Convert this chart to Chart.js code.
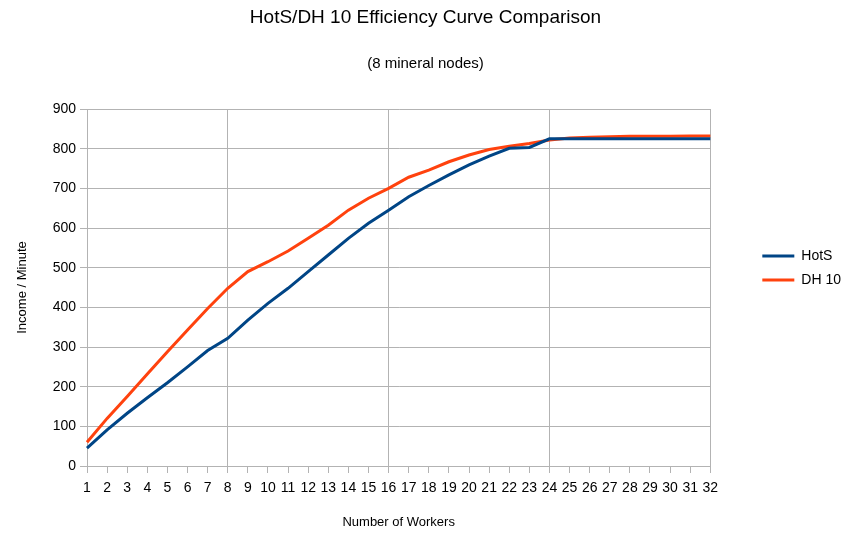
<!DOCTYPE html>
<html>
<head>
<meta charset="utf-8">
<script src="https://cdn.jsdelivr.net/npm/chart.js@4.4.0/dist/chart.umd.min.js"></script>
<style>
  html, body { margin: 0; padding: 0; background: #ffffff; }
  #wrap { width: 853px; height: 547px; }
</style>
</head>
<body>
<div id="wrap"><canvas id="c" width="853" height="547"></canvas></div>
<script>
const workers = ['1','2','3','4','5','6','7','8','9','10','11','12','13','14','15','16','17','18','19','20','21','22','23','24','25','26','27','28','29','30','31','32'];
const hotsIncome = [45, 91, 133, 172, 210, 250, 291, 322, 368, 410, 448, 490, 532, 574, 612, 645, 679, 707, 734, 759, 781, 801, 803, 825, 825, 825, 825, 825, 825, 825, 825, 825];
const dh10Income = [60, 120, 175, 232, 288, 343, 397, 448, 490, 515, 542, 574, 607, 645, 675, 700, 728, 746, 767, 784, 798, 806, 813, 822, 827, 829, 830, 831, 831, 831, 832, 832];
const yTicks = [0, 100, 200, 300, 400, 500, 600, 700, 800, 900];
const gridLinesAt = ['8', '16', '24', '32'];

const FONT = "'Liberation Sans', Arial, sans-serif";
const GRID = '#b3b3b3';

new Chart(document.getElementById('c'), {
  type: 'line',
  data: {
    labels: workers,
    datasets: [
      { label: 'HotS', data: hotsIncome, borderColor: '#004586', backgroundColor: '#004586', borderWidth: 3, pointRadius: 0, pointHoverRadius: 0, tension: 0 },
      { label: 'DH 10', data: dh10Income, borderColor: '#ff420e', backgroundColor: '#ff420e', borderWidth: 3, pointRadius: 0, pointHoverRadius: 0, tension: 0 }
    ]
  },
  options: {
    responsive: false,
    animation: false,
    events: [],
    layout: { padding: { left: 0, right: 2, top: 0, bottom: 0 } },
    plugins: {
      title: {
        display: true,
        text: 'HotS/DH 10 Efficiency Curve Comparison',
        color: '#000',
        font: { family: FONT, size: 19, weight: 'normal' },
        padding: { top: 6, bottom: 26 }
      },
      subtitle: {
        display: true,
        text: '(8 mineral nodes)',
        color: '#000',
        font: { family: FONT, size: 15, weight: 'normal' },
        padding: { top: 0, bottom: 36.2 }
      },
      legend: {
        position: 'right',
        align: 'start',
        title: { display: true, text: ' ', font: { family: FONT, size: 10 }, padding: { top: 227, bottom: 0 } },
        labels: {
          color: '#000',
          font: { family: FONT, size: 14 },
          usePointStyle: true,
          pointStyle: 'line',
          pointStyleWidth: 32,
          padding: 10
        }
      },
      tooltip: { enabled: false }
    },
    scales: {
      x: {
        type: 'category',
        grid: {
          color: (ctx) => (ctx.tick && gridLinesAt.includes(workers[ctx.index])) ? GRID : 'rgba(0,0,0,0)',
          tickColor: GRID,
          tickLength: 7,
          lineWidth: 1
        },
        border: { color: GRID },
        ticks: { color: '#000', font: { family: FONT, size: 14 }, padding: 7, autoSkip: false, maxRotation: 0 },
        title: { display: true, text: 'Number of Workers', color: '#000', font: { family: FONT, size: 13 }, padding: { top: 4, bottom: 17 } },
        afterFit: (s) => { s.height = 81; }
      },
      y: {
        min: 0,
        max: 900,
        afterBuildTicks: (s) => { s.ticks = yTicks.map(v => ({ value: v })); },
        grid: { color: GRID, tickColor: GRID, tickLength: 7 },
        border: { color: GRID },
        ticks: { color: '#000', font: { family: FONT, size: 14 }, padding: 4 },
        title: { display: true, text: 'Income / Minute', color: '#000', font: { family: FONT, size: 13 }, padding: { top: 15, bottom: 0 } },
        afterFit: (s) => { s.width = 87; }
      },
      yR: {
        position: 'right',
        display: true,
        grid: { display: false, drawTicks: false },
        border: { display: false },
        ticks: { display: false },
        afterFit: (s) => { s.width = 42; }
      }
    }
  }
});
</script>
</body>
</html>
